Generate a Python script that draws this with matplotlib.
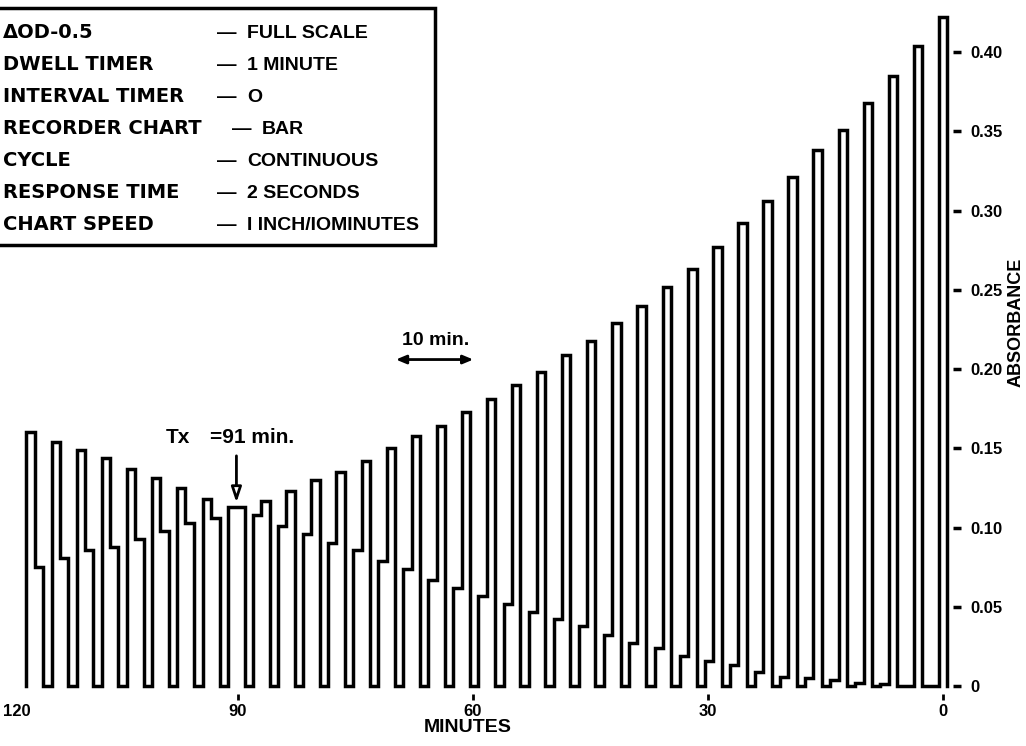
import numpy as np
import matplotlib.pyplot as plt
from matplotlib.patches import Rectangle

plt.rcParams['font.family'] = ['Liberation Sans', 'DejaVu Sans']
plt.rcParams['font.weight'] = 'bold'

# start of each recorder cycle (minutes, chart runs 120 -> 0)
cycle_start = [117.0, 113.8, 110.6, 107.4, 104.2, 101.0, 97.8, 94.5, 91.3, 88.1,
               84.9, 81.7, 78.5, 75.3, 72.1, 68.9, 65.7, 62.5, 59.3, 56.1,
               52.9, 49.7, 46.5, 43.3, 40.1, 36.8, 33.6, 30.4, 27.2, 24.0,
               20.8, 17.6, 14.4, 11.2, 8.0, 4.8, 1.6]
# first position of the cycle (falls with time)
abs_a = [0.160, 0.154, 0.149, 0.144, 0.137, 0.131, 0.125, 0.118, 0.113, 0.108,
         0.101, 0.096, 0.090, 0.086, 0.079, 0.074, 0.067, 0.062, 0.057, 0.052,
         0.047, 0.042, 0.038, 0.032, 0.027, 0.024, 0.019, 0.016, 0.013, 0.009,
         0.006, 0.005, 0.004, 0.002, 0.001, 0.0, 0.0]
# second position of the cycle (rises with time)
abs_b = [0.075, 0.081, 0.086, 0.088, 0.093, 0.098, 0.103, 0.106, 0.113, 0.117,
         0.123, 0.130, 0.135, 0.142, 0.150, 0.158, 0.164, 0.173, 0.181, 0.190,
         0.198, 0.209, 0.218, 0.229, 0.240, 0.252, 0.263, 0.277, 0.292, 0.306,
         0.321, 0.338, 0.351, 0.368, 0.385, 0.404, 0.422]
dwell = 1.07  # minutes per position on the chart

x_ticks = [120, 90, 60, 30, 0]
x_labels = ['120', '90', '60', '30', '0']
y_ticks = [0, 0.05, 0.10, 0.15, 0.20, 0.25, 0.30, 0.35, 0.40]
y_labels = ['0', '0.05', '0.10', '0.15', '0.20', '0.25', '0.30', '0.35', '0.40']

settings = [('\u0394OD-0.5', 'FULL SCALE'),
            ('DWELL TIMER', '1 MINUTE'),
            ('INTERVAL TIMER', 'O'),
            ('RECORDER CHART', 'BAR'),
            ('CYCLE', 'CONTINUOUS'),
            ('RESPONSE TIME', '2 SECONDS'),
            ('CHART SPEED', 'I INCH/IOMINUTES')]


def bar_trace(starts, a, b, w):
    xs, ys = [], []
    for m, va, vb in zip(starts, a, b):
        xs += [m, m, m - w, m - w, m - 2 * w, m - 2 * w]
        ys += [0, va, va, vb, vb, 0]
    return xs, ys


W, H = 1026, 746
fig = plt.figure(figsize=(W / 100, H / 100), dpi=100)
ax = fig.add_axes([3 / W, 52 / H, 950 / W, 690 / H])

xs, ys = bar_trace(cycle_start, abs_a, abs_b, dwell)
ax.plot(xs, ys, color='black', lw=2.5, solid_joinstyle='miter')

ax.set_xlim(120, -1.28)
ax.set_ylim(-0.005, 0.4303)
for s in ax.spines.values():
    s.set_visible(False)

ax.set_xticks(x_ticks, x_labels)
ax.tick_params(axis='x', direction='out', length=4.5, width=2, pad=3, labelsize=12)
ax.get_xticklabels()[0].set_horizontalalignment('left')
ax.xaxis.get_major_ticks()[0].tick1line.set_visible(False)

ax.yaxis.tick_right()
ax.set_yticks(y_ticks, y_labels)
ax.tick_params(axis='y', direction='out', length=5.5, width=2.5, pad=7, labelsize=12)

# Tx marker
ax.annotate('', xy=(90.2, 0.114), xytext=(90.2, 0.147),
            arrowprops=dict(arrowstyle='-|>,head_length=0.9,head_width=0.3',
                            fc='white', ec='black', lw=2))
ax.text(97.7, 0.157, 'Tx', ha='center', va='center', fontsize=15)
ax.text(93.6, 0.157, '=91 min.', ha='left', va='center', fontsize=15)

# 10 minute scale bar
ax.annotate('', xy=(70.2, 0.206), xytext=(59.6, 0.206),
            arrowprops=dict(arrowstyle='<|-|>,head_length=0.6,head_width=0.25',
                            fc='black', ec='black', lw=2))
ax.text(64.8, 0.218, '10 min.', ha='center', va='center', fontsize=14)

fig.text(1016 / W, 1 - 322 / H, 'ABSORBANCE', rotation=90, ha='center', va='center', fontsize=13)
fig.text(468 / W, 1 - 727 / H, 'MINUTES', ha='center', va='center', fontsize=14)

# settings box
fig.patches.append(Rectangle((-2 / W, 1 - 245 / H), 437 / W, 237 / H, transform=fig.transFigure,
                             fill=False, ec='black', lw=2.5))
for i, (k, v) in enumerate(settings):
    yy = 1 - (33 + 32 * i) / H
    fig.text(3 / W, yy, k, ha='left', va='center', fontsize=14, family='DejaVu Sans')
    if k == 'RECORDER CHART':
        dx, vx = 232, 262
    else:
        dx, vx = 217, 247
    fig.text(dx / W, yy, '\u2014', ha='left', va='center', fontsize=14)
    fig.text(vx / W, yy, v, ha='left', va='center', fontsize=14)

fig.savefig('out.png', dpi=100)
